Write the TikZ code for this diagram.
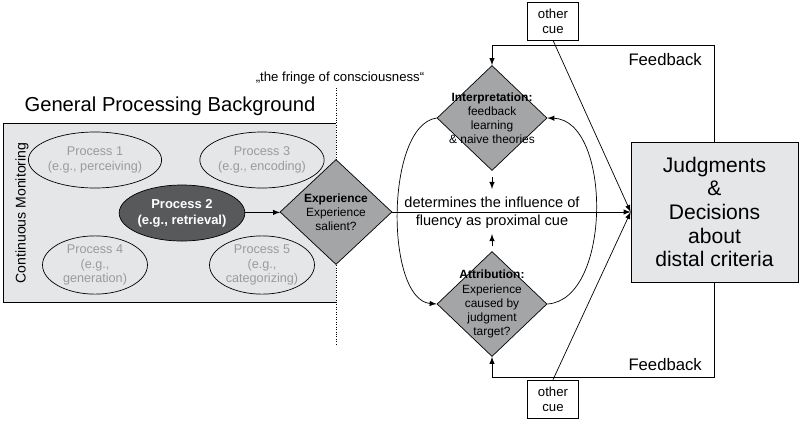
\documentclass[tikz,border=0pt]{standalone}
\usepackage{fontspec}
\setmainfont{Liberation Sans}
\usetikzlibrary{positioning}
\usetikzlibrary{shapes}
\usetikzlibrary{arrows}
\definecolor{bggray}{HTML}{E4E6E7}
\definecolor{dgray}{HTML}{A4A5A7}
\definecolor{pgray}{HTML}{58595B}
\definecolor{tgray}{HTML}{9A9B9D}
\begin{document}
\begin{tikzpicture}[x=0.02cm, y=-0.02cm]
% -------------------------------------------------
\tikzset{
  proc/.style={draw, ellipse, minimum width=105*0.02cm, minimum height=56*0.02cm, inner sep=0pt,
    align=center, text=tgray, font=\fontsize{7.2}{8.5}\selectfont},
  dec/.style={draw, diamond, fill=dgray, minimum width=110*0.02cm, minimum height=105*0.02cm,
    inner sep=-12pt, align=center, font=\fontsize{6.8}{8}\selectfont},
  cue/.style={draw, align=center, minimum width=51*0.02cm, minimum height=38*0.02cm, inner sep=1pt,
    font=\fontsize{7.5}{8.5}\selectfont},
  line/.style={draw, -latex}
}
% -------------------------------------------------
\useasboundingbox (0,0) rectangle (800,420);
\fill[bggray] (3,123) rectangle (336,302);
\draw (336,123) -- (3,123) -- (3,302) -- (336,302);
\node at (170,106) {\fontsize{11.5}{13}\selectfont General Processing Background};
\node at (340,78) {\fontsize{7.5}{9}\selectfont „the fringe of consciousness“};
\draw[densely dotted] (336,88) -- (336,345);
\node[rotate=90, font=\fontsize{8}{9}\selectfont] at (22,213) {Continuous Monitoring};

\node [proc] (p1) at (95,160) {Process 1\\(e.g., perceiving)};
\node [proc] (p3) at (262,160) {Process 3\\(e.g., encoding)};
\node [proc] (p4) at (95,265) {Process 4\\(e.g.,\\generation)};
\node [proc] (p5) at (262,265) {Process 5\\(e.g.,\\categorizing)};
\node [proc, fill=pgray, text=white, minimum width=115*0.02cm, font=\fontsize{7.4}{9}\selectfont\bfseries]
  (p2) at (182,213) {Process 2\\(e.g., retrieval)};

\node [dec, minimum width=112*0.02cm] (exp) at (336,212) {\textbf{Experience}\\Experience\\salient?};
\node [dec] (interp) at (492,118) {\textbf{Interpretation:}\\feedback\\learning\\\& naive theories};
\node [dec] (attr) at (492,304) {\textbf{Attribution:}\\Experience\\caused by\\judgment\\target?};

\node [draw, fill=bggray, minimum width=167*0.02cm, minimum height=140*0.02cm, align=center,
  font=\fontsize{12}{13.5}\selectfont] (jd) at (714.5,212) {Judgments\\\&\\Decisions\\about\\distal criteria};

\node [font=\fontsize{8.3}{10}\selectfont, align=center] (infl) at (492,213)
  {determines the influence of\\fluency as proximal cue};

\node [cue] (c1) at (553,21) {other\\cue};
\node [cue] (c2) at (553,399) {other\\cue};

\coordinate (d1) at (492,177);
\coordinate (d2) at (492,189);
\coordinate (u1) at (492,246);
\coordinate (u2) at (492,234);

\path [line] (p2) -- (exp);
\path [line] (exp.east) -- (jd.west);
\path [line] (d1) -- (d2);
\path [line] (u1) -- (u2);
\path [line] (c1.south) -- (jd.west);
\path [line] (c2.north) -- (jd.west);
\draw [-latex] (interp.west) .. controls (385,125) and (385,300) .. (attr.west);
\draw [-latex] (attr.east) .. controls (612,300) and (612,120) .. (interp.east);
\draw [-latex] (jd.north) |- (492,45) -- (interp.north);
\draw [-latex] (jd.south) |- (492,377) -- (attr.south);
\node [font=\fontsize{9.5}{11}\selectfont, anchor=east] at (708,60) {Feedback};
\node [font=\fontsize{9.5}{11}\selectfont, anchor=east] at (708,365) {Feedback};
\end{tikzpicture}
\end{document}
